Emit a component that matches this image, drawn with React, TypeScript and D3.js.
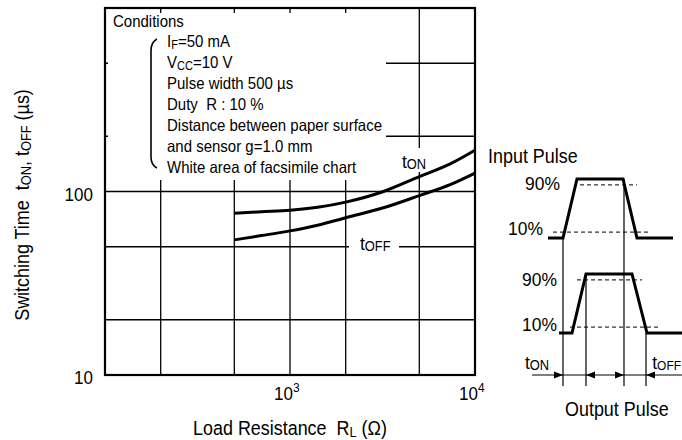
import React from "react";
import * as d3 from "d3";

// ---- data ----
const loadResistance = [500, 700, 1000, 1410, 2000, 3200, 5000, 7340, 10000];
const tOnValues = [76, 77.5, 79, 82, 87.5, 100, 120.5, 141.5, 168];
const tOffValues = [54.5, 57.5, 61, 65.5, 72, 81.5, 95, 109, 126];

const xGridValues = [200, 500, 1000, 2000, 5000];
const yGridValues = [20, 50, 100, 200, 500];
const xTickValues = [1000, 10000];
const xTickExponents = ["3", "4"];
const yTickValues = [10, 100];

const conditionLines = [
  "Pulse width 500 \u00b5s",
  "Duty \u00a0R : 10 %",
  "Distance between paper surface",
  "and sensor g=1.0 mm",
  "White area of facsimile chart",
];

// pulse diagram (time units, level 0..1)
const inputTimes = [0, 15, 29, 75, 89, 125];
const outputTimes = [11, 24, 38, 84, 99, 134];
const pulseLevels = [0, 0, 1, 1, 0, 0];
const markerTimes = [15, 38, 76, 98];
const arrowDirs = [1, -1, 1, -1];

const FONT = "'Liberation Sans', Arial, sans-serif";
const SX = 0.92;

function Txt(props: {
  x: number;
  y: number;
  size: number;
  anchor?: string;
  rotate?: number;
  children: React.ReactNode;
}) {
  const { x, y, size, anchor = "start", rotate = 0, children } = props;
  return (
    <text
      transform={`translate(${x},${y})${rotate ? ` rotate(${rotate})` : ""} scale(${SX},1)`}
      fontSize={size}
      textAnchor={anchor}
      fill="#000"
      style={{ whiteSpace: "pre" }}
    >
      {children}
    </text>
  );
}

export default function App() {
  const W = 682, H = 440;
  const L = 105, R = 475, T = 8, B = 375;
  const x = d3.scaleLog().domain([100, 10000]).range([L, R]);
  const y = d3.scaleLog().domain([10, 1000]).range([B, T]);

  const line = d3
    .line<[number, number]>()
    .x((d) => x(d[0]))
    .y((d) => y(d[1]))
    .curve(d3.curveMonotoneX);

  const onPts = loadResistance.map((r, i) => [r, tOnValues[i]] as [number, number]);
  const offPts = loadResistance.map((r, i) => [r, tOffValues[i]] as [number, number]);

  // pulse scales
  const tx = d3.scaleLinear().domain([0, 134]).range([548, 682]);
  const inY = d3.scaleLinear().domain([0, 1]).range([238, 179]);
  const outY = d3.scaleLinear().domain([0, 1]).range([333, 274]);
  const pulse = (times: number[], ys: d3.ScaleLinear<number, number>) =>
    d3
      .line<number>()
      .x((t) => tx(t))
      .y((_, i) => ys(pulseLevels[i]))(times) as string;

  const arrowY = 375;
  const markerBottom = 386;

  return (
    <svg
      width={W}
      height={H}
      style={{ display: "block", position: "absolute", left: 0, top: 0 }}
      fontFamily={FONT}
    >
      <rect width={W} height={H} fill="#fff" />
      {/* grid */}
      <g stroke="#000" strokeWidth={1.3}>
        {xGridValues.map((v) => (
          <line key={"gx" + v} x1={x(v)} x2={x(v)} y1={T} y2={B} />
        ))}
        {yGridValues.map((v) => (
          <line key={"gy" + v} x1={L} x2={R} y1={y(v)} y2={y(v)} />
        ))}
      </g>
      {/* masks behind texts */}
      <rect x={L + 3} y={13} width={386 - L - 3} height={180 - 13} fill="#fff" />
      <rect x={415} y={148} width={14} height={24} fill="#fff" />
      <rect x={349} y={y(50) - 4} width={50} height={8} fill="#fff" />

      {/* curves */}
      <path d={line(onPts) as string} fill="none" stroke="#000" strokeWidth={3} />
      <path d={line(offPts) as string} fill="none" stroke="#000" strokeWidth={3} />

      {/* frame */}
      <rect x={L} y={T} width={R - L} height={B - T} fill="none" stroke="#000" strokeWidth={2.2} />

      {/* conditions */}
      <Txt x={113} y={27} size={16.3}>Conditions</Txt>
      <Txt x={167} y={47} size={16.3}>
        I<tspan fontSize={12} dy={1.5}>F</tspan>
        <tspan dy={-1.5}>=50 mA</tspan>
      </Txt>
      <Txt x={167} y={68} size={16.3}>
        V<tspan fontSize={12} dy={1.5}>CC</tspan>
        <tspan dy={-1.5}>=10 V</tspan>
      </Txt>
      {conditionLines.map((s, i) => (
        <Txt key={s} x={167} y={89 + i * 21} size={16.3}>
          {s}
        </Txt>
      ))}
      <path d="M157,39 Q151,42 151,51 L151,157 Q151,165 157,168" fill="none" stroke="#000" strokeWidth={1.6} />

      {/* curve labels */}
      <Txt x={402} y={168} size={19}>
        t<tspan fontSize={14} dy={1}>ON</tspan>
      </Txt>
      <Txt x={360} y={250} size={19}>
        t<tspan fontSize={14} dy={1}>OFF</tspan>
      </Txt>

      {/* ticks */}
      {yTickValues.map((v) => (
        <Txt key={"yt" + v} x={93} y={y(v) + 9} size={18.5} anchor="end">
          {v}
        </Txt>
      ))}
      {xTickValues.map((v, i) => (
        <Txt key={"xt" + v} x={x(v) - 16} y={400} size={18.5}>
          10<tspan fontSize={13} dy={-8}>{xTickExponents[i]}</tspan>
        </Txt>
      ))}

      {/* axis titles */}
      <Txt x={290} y={435} size={19.5} anchor="middle">
        {"Load Resistance \u00a0R"}<tspan fontSize={14} dy={2}>L</tspan>
        <tspan dy={-2}>{" (\u03a9)"}</tspan>
      </Txt>
      <Txt x={29} y={205} size={19.5} anchor="middle" rotate={-90}>
        {"Switching Time \u00a0t"}<tspan fontSize={14} dy={2}>ON</tspan>
        <tspan dy={-2}>, t</tspan>
        <tspan fontSize={14} dy={2}>OFF</tspan>
        <tspan dy={-2}>{" (\u00b5s)"}</tspan>
      </Txt>

      {/* pulse diagram */}
      <Txt x={488} y={163} size={19.5}>Input Pulse</Txt>
      <Txt x={560} y={190} size={19} anchor="end">90%</Txt>
      <Txt x={543} y={235} size={19} anchor="end">10%</Txt>
      <Txt x={557} y={286} size={19} anchor="end">90%</Txt>
      <Txt x={557} y={331} size={19} anchor="end">10%</Txt>
      <Txt x={525} y={369} size={19}>
        t<tspan fontSize={14} dy={1}>ON</tspan>
      </Txt>
      <Txt x={681} y={369} size={19} anchor="end">
        t<tspan fontSize={13} dy={1}>OFF</tspan>
      </Txt>
      <Txt x={565} y={416} size={19.5}>Output Pulse</Txt>

      <path d={pulse(inputTimes, inY)} fill="none" stroke="#000" strokeWidth={3} />
      <path d={pulse(outputTimes, outY)} fill="none" stroke="#000" strokeWidth={3} />
      <g stroke="#000" strokeWidth={1} strokeDasharray="4,3">
        <line x1={tx(32)} x2={tx(89)} y1={inY(0.9)} y2={inY(0.9)} />
        <line x1={tx(5)} x2={tx(100)} y1={inY(0.1)} y2={inY(0.1)} />
        <line x1={tx(29)} x2={tx(94)} y1={outY(0.9)} y2={outY(0.9)} />
        <line x1={tx(22)} x2={tx(112)} y1={outY(0.1)} y2={outY(0.1)} />
      </g>
      <g stroke="#000" strokeWidth={1.2}>
        <line x1={tx(markerTimes[0])} x2={tx(markerTimes[0])} y1={inY(0)} y2={markerBottom} />
        <line x1={tx(markerTimes[1])} x2={tx(markerTimes[1])} y1={outY(1)} y2={markerBottom} />
        <line x1={tx(markerTimes[2])} x2={tx(markerTimes[2])} y1={inY(1)} y2={markerBottom} />
        <line x1={tx(markerTimes[3])} x2={tx(markerTimes[3])} y1={outY(0)} y2={markerBottom} />
        <line x1={532} x2={682} y1={arrowY} y2={arrowY} />
      </g>
      {markerTimes.map((t, i) => {
        const px = tx(t);
        const d = arrowDirs[i];
        return (
          <path
            key={"ar" + i}
            d={`M${px},${arrowY} L${px - d * 9},${arrowY - 3.5} L${px - d * 9},${arrowY + 3.5} Z`}
            fill="#000"
          />
        );
      })}
    </svg>
  );
}
